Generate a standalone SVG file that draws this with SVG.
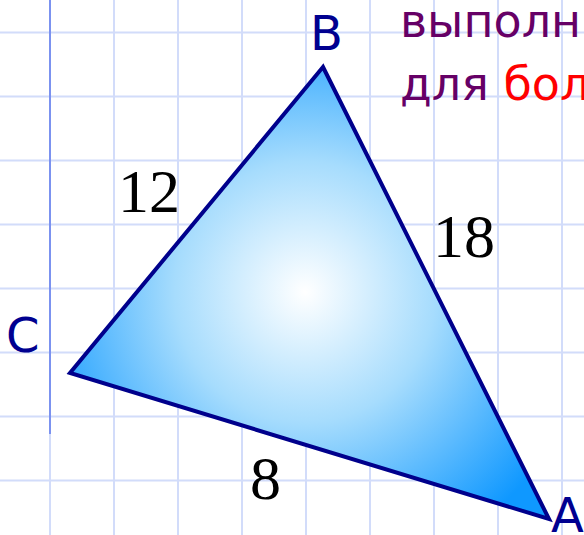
<svg xmlns="http://www.w3.org/2000/svg" width="584" height="535" viewBox="0 0 584 535">
<defs>
<radialGradient id="g" gradientUnits="userSpaceOnUse" cx="305" cy="292" r="290">
<stop offset="0" stop-color="#ffffff"/>
<stop offset="0.45" stop-color="#a6dcfd"/>
<stop offset="1" stop-color="#0f98ff"/>
</radialGradient>
<style>
.grid line{stroke:#d2dcfa;stroke-width:2}
.lbl{font-family:"DejaVu Sans",Verdana,sans-serif;font-size:48px;fill:#000090}
.num{font-family:"Liberation Serif","Times New Roman",serif;font-size:62px;fill:#000}
.txt{font-family:"DejaVu Sans",Verdana,sans-serif;font-size:46px;fill:#660066}
</style>
</defs>
<rect width="584" height="535" fill="#fff"/>
<g class="grid">
<line x1="50" y1="0" x2="50" y2="535"/>
<line x1="114" y1="0" x2="114" y2="535"/>
<line x1="178" y1="0" x2="178" y2="535"/>
<line x1="242" y1="0" x2="242" y2="535"/>
<line x1="306" y1="0" x2="306" y2="535"/>
<line x1="370" y1="0" x2="370" y2="535"/>
<line x1="434" y1="0" x2="434" y2="535"/>
<line x1="498" y1="0" x2="498" y2="535"/>
<line x1="562" y1="0" x2="562" y2="535"/>
<line x1="0" y1="32.5" x2="584" y2="32.5"/>
<line x1="0" y1="96.5" x2="584" y2="96.5"/>
<line x1="0" y1="160.5" x2="584" y2="160.5"/>
<line x1="0" y1="224.5" x2="584" y2="224.5"/>
<line x1="0" y1="288.5" x2="584" y2="288.5"/>
<line x1="0" y1="352.5" x2="584" y2="352.5"/>
<line x1="0" y1="416.5" x2="584" y2="416.5"/>
<line x1="0" y1="480.5" x2="584" y2="480.5"/>
</g>
<line x1="50" y1="0" x2="50" y2="434" stroke="#7b92f0" stroke-width="2"/>
<g id="triangle">
<polygon points="323,67 70,373 549,519" fill="url(#g)" stroke="#00008c" stroke-width="4" stroke-linejoin="miter"/>
</g>
<g id="labels">
<text class="lbl" x="310" y="50">B</text>
<text class="lbl" x="6" y="352">C</text>
<text class="lbl" x="551" y="532">A</text>
<text class="num" x="118" y="212">12</text>
<text class="num" x="433" y="257">18</text>
<text class="num" x="250" y="499">8</text>
</g>
<g id="caption">
<text class="txt" x="400" y="37">выполн</text>
<text class="txt" x="400" y="100">для <tspan fill="#ff0000">бол</tspan></text>
</g>
</svg>
